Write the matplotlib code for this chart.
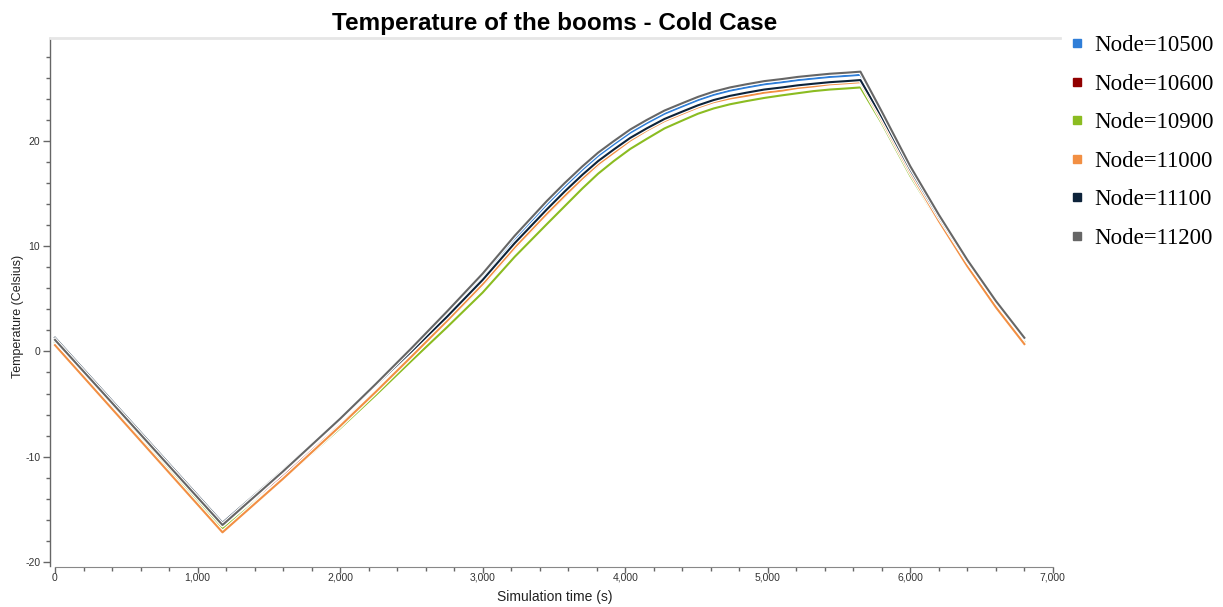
import matplotlib
matplotlib.use("Agg")
import matplotlib.pyplot as plt
import matplotlib.patheffects as pe
from matplotlib.lines import Line2D
from matplotlib.ticker import MultipleLocator, FuncFormatter

# simulation time (s)
times = [0, 1175, 1600, 2000, 2250, 2500, 2750, 3000, 3225, 3450,
         3575, 3700, 3810, 3920, 4035, 4150, 4275, 4400, 4510, 4620,
         4735, 4850, 4975, 5100, 5210, 5320, 5435, 5550, 5650, 5800,
         6000, 6200, 6400, 6600, 6800]

# temperatures per node (Celsius)
node_10500 = [1.2, -16.3, -11.3, -6.4, -3.2, 0.1, 3.5, 7.1, 10.7, 14.0,
              15.7, 17.3, 18.6, 19.7, 20.8, 21.7, 22.6, 23.3, 23.9, 24.4,
              24.8, 25.1, 25.4, 25.6, 25.8, 25.95, 26.1, 26.2, 26.3, 22.6,
              17.5, 12.9, 8.6, 4.7, 1.2]
node_10600 = [0.9, -16.9, -11.9, -7.0, -3.8, -0.5, 2.85, 6.3, 9.8, 13.0,
              14.7, 16.35, 17.7, 18.9, 20.0, 20.95, 21.9, 22.6, 23.25, 23.75,
              24.2, 24.5, 24.8, 25.0, 25.2, 25.35, 25.5, 25.6, 25.7, 22.2,
              17.2, 12.6, 8.3, 4.4, 0.9]
node_10900 = [0.8, -16.9, -12.1, -7.3, -4.15, -0.9, 2.3, 5.6, 9.0, 12.1,
              13.8, 15.5, 16.9, 18.1, 19.25, 20.2, 21.2, 21.95, 22.6, 23.1,
              23.5, 23.8, 24.1, 24.35, 24.55, 24.75, 24.9, 25.0, 25.1, 21.7,
              16.7, 12.3, 8.1, 4.3, 0.9]
node_11000 = [0.6, -17.2, -12.1, -7.1, -3.85, -0.5, 2.9, 6.4, 9.9, 13.1,
              14.8, 16.45, 17.8, 18.9, 20.05, 21.0, 21.9, 22.6, 23.2, 23.7,
              24.05, 24.3, 24.6, 24.8, 25.05, 25.2, 25.4, 25.5, 25.6, 22.0,
              17.0, 12.4, 8.1, 4.2, 0.7]
node_11100 = [1.3, -16.3, -11.3, -6.4, -3.2, 0.0, 3.3, 6.8, 10.3, 13.5,
              15.2, 16.8, 18.1, 19.2, 20.3, 21.2, 22.1, 22.8, 23.4, 23.9,
              24.3, 24.6, 24.9, 25.1, 25.3, 25.45, 25.6, 25.7, 25.8, 22.3,
              17.3, 12.8, 8.6, 4.8, 1.3]
node_11200 = [1.1, -16.5, -11.4, -6.4, -3.1, 0.3, 3.8, 7.4, 11.0, 14.3,
              16.0, 17.6, 18.9, 20.0, 21.1, 22.0, 22.9, 23.6, 24.2, 24.7,
              25.1, 25.4, 25.7, 25.9, 26.1, 26.25, 26.4, 26.5, 26.6, 22.8,
              17.6, 13.0, 8.7, 4.8, 1.3]

labels = ["Node=10500", "Node=10600", "Node=10900",
          "Node=11000", "Node=11100", "Node=11200"]
series = [node_10500, node_10600, node_10900, node_11000, node_11100, node_11200]
colors = ["#2f7ed8", "#910000", "#8bbc21", "#f28f43", "#0d233a", "#666666"]

plt.rcParams['font.family'] = ['Liberation Sans', 'DejaVu Sans']
plt.rcParams['axes.unicode_minus'] = False

fig = plt.figure(figsize=(12.23, 6.07), dpi=100)
ax = fig.add_axes([50 / 1223, 1 - 566 / 607, 1010 / 1223, 528 / 607])

halo = [pe.Stroke(linewidth=3.2, foreground="white"), pe.Normal()]
for vals, c in zip(series, colors):
    ax.plot(times, vals, color=c, lw=1.5, solid_joinstyle="round",
            path_effects=halo)

ax.set_xlim(-35, 7050)
ax.set_ylim(-20.4, 29.8)

ax.xaxis.set_major_locator(MultipleLocator(1000))
ax.xaxis.set_minor_locator(MultipleLocator(200))
ax.yaxis.set_major_locator(MultipleLocator(10))
ax.yaxis.set_minor_locator(MultipleLocator(2))
ax.xaxis.set_major_formatter(FuncFormatter(lambda v, p: f"{int(v):,}"))

ax.tick_params(axis="both", which="major", length=5, width=1, color="#666666",
               labelsize=7.5, labelcolor="#333333", pad=2)
ax.tick_params(axis="x", which="major", length=4, pad=0)
ax.tick_params(axis="both", which="minor", length=3, width=1, color="#666666")

ax.spines["right"].set_visible(False)
ax.spines["top"].set_color("#e6e6e6")
ax.spines["top"].set_linewidth(2)
ax.spines["left"].set_color("#666666")
ax.spines["left"].set_linewidth(1)
ax.spines["bottom"].set_color("#888888")
ax.spines["bottom"].set_bounds(0, 7000)
ax.spines["bottom"].set_position(("outward", 1))

ax.set_xlabel("Simulation time (s)", fontsize=10, color="#222222", labelpad=5)
ax.set_ylabel("Temperature (Celsius)", fontsize=9, color="#222222")
ax.yaxis.set_label_coords(-0.026, 0.473)
ax.set_title("Temperature of the booms - Cold Case", fontsize=17.5,
             fontweight="bold", pad=6)

handles = [Line2D([], [], marker="s", ls="none", color=c, markersize=5.5)
           for c in colors]
fig.legend(handles, labels, loc="upper left",
           bbox_to_anchor=(1052 / 1223, 1 - 17 / 607),
           frameon=False, prop={"family": "Liberation Serif", "size": 16.5},
           handlelength=0.6, handletextpad=0.45, labelspacing=0.76,
           borderaxespad=0.4)

fig.savefig("out.png", dpi=100)
